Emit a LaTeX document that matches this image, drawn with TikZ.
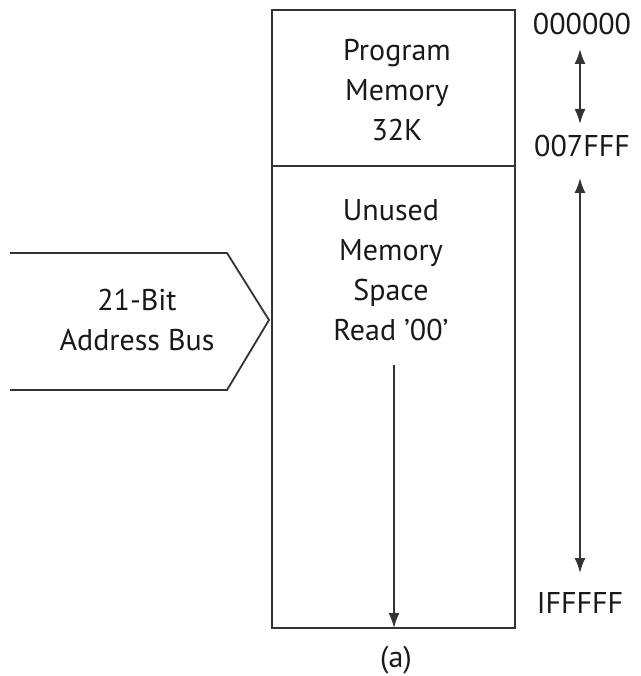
\documentclass[tikz,border=0pt]{standalone}
\usepackage{fontspec}
\setmainfont{PT Sans}
\usetikzlibrary{arrows.meta}
\begin{document}
\begin{tikzpicture}[x=1pt,y=-1pt,
  lbl/.style={font=\fontsize{30}{40}\selectfont, align=center, inner sep=0pt, text=black!90},
  ln/.style={line width=1.8pt, draw=black!80},
  arr/.style={ln, {Latex[length=15pt,width=11pt]}-{Latex[length=15pt,width=11pt]}},
  darr/.style={ln, -{Latex[length=15pt,width=11pt]}}]
\useasboundingbox (0,0) rectangle (640,676);
% memory box
\coordinate (tl) at (272,10);
\coordinate (br) at (515,628);
\draw[ln] (tl) rectangle (br);
\coordinate (dl) at (272,166);
\coordinate (dr) at (515,166);
\draw[ln] (dl) -- (dr);
\node[lbl] (prog) at (397,90) {Program\\Memory\\32K};
\node[lbl] (unused) at (391,270) {Unused\\Memory\\Space\\Read ’00’};
% bus arrow
\coordinate (b1) at (10,253);
\coordinate (b2) at (227,253);
\coordinate (b3) at (269,320);
\coordinate (b4) at (227,390);
\coordinate (b5) at (10,390);
\draw[ln, line join=miter] (b1) -- (b2) -- (b3) -- (b4) -- (b5);
\node[lbl] (bus) at (137,320) {21-Bit\\Address Bus};
% down arrow
\coordinate (d1) at (394,365);
\coordinate (d2) at (394,628);
\draw[darr] (d1) -- (d2);
% addresses
\node[lbl] (a0) at (582,24) {000000};
\node[lbl] (a1) at (582,146) {007FFF};
\node[lbl] (a2) at (580,603) {IFFFFF};
\draw[arr] (580,49) -- (580,124);
\draw[arr] (580,178) -- (580,573);
\node[lbl] (cap) at (396,660) {(a)};
\end{tikzpicture}
\end{document}
